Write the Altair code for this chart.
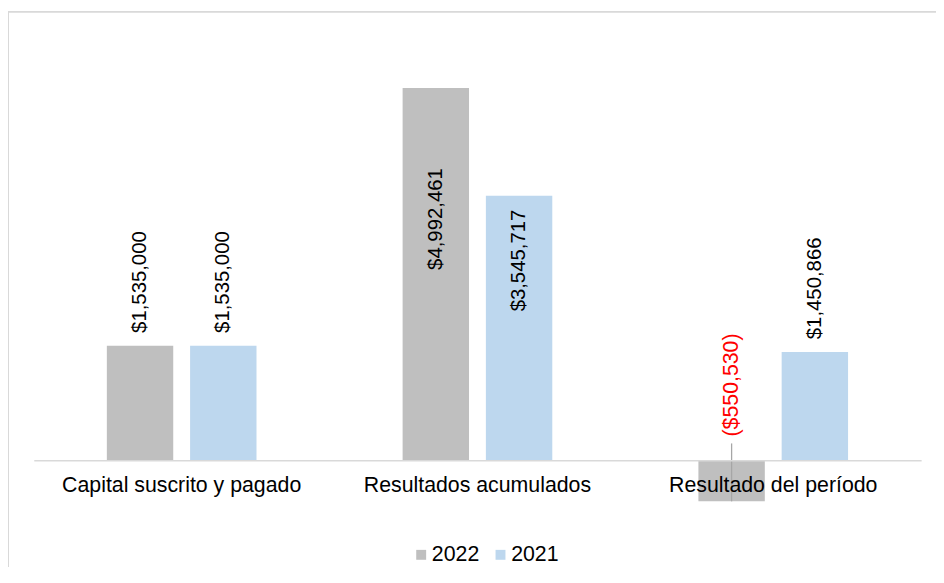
import altair as alt
import pandas as pd

categorias = ["Capital suscrito y pagado", "Resultados acumulados", "Resultado del período"]
series = ["2022", "2021"]
valores_2022 = [1535000, 4992461, -550530]
valores_2021 = [1535000, 3545717, 1450866]
colores = ["#BFBFBF", "#BDD7EE"]

rows = []
for c, v22, v21 in zip(categorias, valores_2022, valores_2021):
    for s, v in (("2022", v22), ("2021", v21)):
        etiqueta = f"${v:,.0f}" if v >= 0 else f"(${-v:,.0f})"
        rows.append({"categoria": c, "serie": s, "valor": v, "etiqueta": etiqueta})
df = pd.DataFrame(rows)

FONT = "Liberation Sans"

x_enc = alt.X(
    "categoria:N",
    sort=categorias,
    scale=alt.Scale(paddingInner=0.494, paddingOuter=0.247),
    axis=alt.Axis(
        title=None, labelAngle=0, offset=-75.2, ticks=False,
        domainColor="#D9D9D9", domainWidth=1.5,
        labelFont=FONT, labelFontSize=21.5, labelColor="#000000",
        labelPadding=14, labelOverlap=False, labelLimit=0, zindex=1, grid=False,
    ),
)
xoff = alt.XOffset("serie:N", sort=series,
                   scale=alt.Scale(paddingInner=0.2024, paddingOuter=0))
y_enc = alt.Y("valor:Q", scale=alt.Scale(domain=[-1000000, 5500000], nice=False, zero=True), axis=None)

base = alt.Chart(df)

bars = base.mark_bar().encode(
    x=x_enc,
    xOffset=xoff,
    y=y_enc,
    color=alt.Color(
        "serie:N", sort=series,
        scale=alt.Scale(domain=series, range=colores),
        legend=alt.Legend(
            title=None, orient="none", direction="horizontal",
            legendX=380, legendY=498, symbolType="square", symbolSize=100,
            symbolStrokeWidth=0, labelFont=FONT, labelFontSize=21.5,
            labelColor="#000000", labelOffset=0, columnPadding=10, padding=0,
        ),
    ),
)

leader = base.transform_filter("datum.valor < 0").mark_rule(
    color="#A6A6A6", strokeWidth=1.3, y2Offset=-17
).encode(x=x_enc, xOffset=xoff, y=y_enc, y2=alt.datum(0))

txt_props = dict(font=FONT, fontSize=20.5, angle=270, baseline="middle")

lab_out = base.transform_filter(
    "datum.valor >= 0 && datum.categoria != 'Resultados acumulados'"
).mark_text(align="left", dx=13, color="#000000", **txt_props).encode(
    x=x_enc, xOffset=xoff, y=y_enc, text="etiqueta:N")

lab_in_hi = base.transform_filter(
    "datum.categoria == 'Resultados acumulados' && datum.serie == '2022'"
).mark_text(align="right", dx=-81, color="#000000", **txt_props).encode(
    x=x_enc, xOffset=xoff, y=y_enc, text="etiqueta:N")

lab_in = base.transform_filter(
    "datum.categoria == 'Resultados acumulados' && datum.serie == '2021'"
).mark_text(align="right", dx=-14, color="#000000", **txt_props).encode(
    x=x_enc, xOffset=xoff, y=y_enc, text="etiqueta:N")

lab_neg = base.transform_filter("datum.valor < 0").mark_text(
    align="left", dx=24, color="#FF0000", font=FONT, fontSize=21.5, angle=270,
    baseline="middle"
).encode(x=x_enc, xOffset=xoff, y=alt.datum(0), text="etiqueta:N")

one = alt.Data(values=[{"a": 1}])
border_left = alt.Chart(one).mark_rule(color="#D9D9D9", strokeWidth=2).encode(
    x=alt.value(-26), y=alt.value(-39), y2=alt.value(600))
border_top = alt.Chart(one).mark_rule(color="#D9D9D9", strokeWidth=2).encode(
    x=alt.value(-27), x2=alt.value(960), y=alt.value(-38.5))

chart = alt.layer(
    border_left, border_top, bars, leader, lab_out, lab_in_hi, lab_in, lab_neg
).properties(
    width=895, height=489,
    background="#FFFFFF",
    autosize=alt.AutoSizeParams(type="none"),
    padding={"left": 26, "top": 40, "right": 15, "bottom": 30},
).configure_view(strokeWidth=0, stroke="transparent")

chart.save("out.html", embed_options={"renderer": "svg", "actions": False})
